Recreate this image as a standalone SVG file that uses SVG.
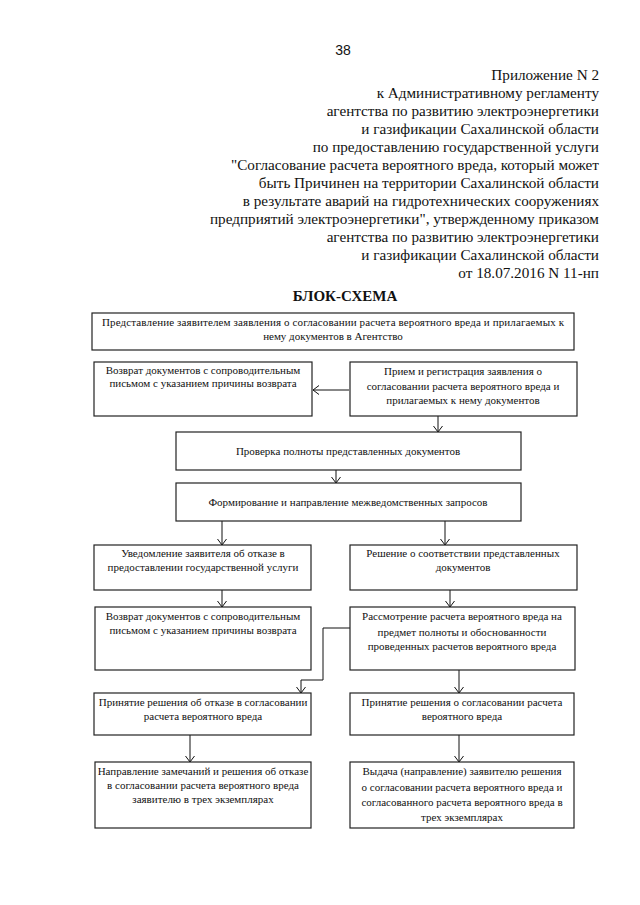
<svg xmlns="http://www.w3.org/2000/svg" width="640" height="905" viewBox="0 0 640 905">
<defs>
<style>
.hdr{font-family:"Liberation Serif","Times New Roman",serif;font-size:15.2px;fill:#111;text-anchor:end}
.t{font-family:"Liberation Serif","Times New Roman",serif;font-size:11px;fill:#111;text-anchor:middle}
.box{fill:#fff;stroke:#222;stroke-width:1.2}
.ln{fill:none;stroke:#111;stroke-width:1}
</style>
<marker id="ah" markerWidth="10" markerHeight="10" refX="6" refY="5" orient="auto" markerUnits="userSpaceOnUse">
<path d="M0,0.5 L6,5 L0,9.5" fill="none" stroke="#111" stroke-width="1"/>
</marker>
</defs>
<rect width="640" height="905" fill="#fff"/>
<text x="343" y="55" font-family="'Liberation Sans',Arial,sans-serif" font-size="14" fill="#111" text-anchor="middle">38</text>
<g id="header">
<text class="hdr" x="599" y="80">Приложение N 2</text>
<text class="hdr" x="599" y="98">к Административному регламенту</text>
<text class="hdr" x="599" y="116">агентства по развитию электроэнергетики</text>
<text class="hdr" x="599" y="134">и газификации Сахалинской области</text>
<text class="hdr" x="599" y="152">по предоставлению государственной услуги</text>
<text class="hdr" x="599" y="170">"Согласование расчета вероятного вреда, который может</text>
<text class="hdr" x="599" y="188">быть Причинен на территории Сахалинской области</text>
<text class="hdr" x="599" y="206">в результате аварий на гидротехнических сооружениях</text>
<text class="hdr" x="599" y="224">предприятий электроэнергетики", утвержденному приказом</text>
<text class="hdr" x="599" y="242">агентства по развитию электроэнергетики</text>
<text class="hdr" x="599" y="260">и газификации Сахалинской области</text>
<text class="hdr" x="599" y="278">от 18.07.2016 N 11-нп</text>
</g>
<text x="345" y="301" font-family="'Liberation Serif','Times New Roman',serif" font-size="15" font-weight="bold" fill="#111" text-anchor="middle">БЛОК-СХЕМА</text>

<g id="connectors">
<line class="ln" x1="349" y1="390" x2="313" y2="390" marker-end="url(#ah)"/>
<line class="ln" x1="438" y1="416" x2="438" y2="432" marker-end="url(#ah)"/>
<line class="ln" x1="336" y1="470" x2="336" y2="483" marker-end="url(#ah)"/>
<line class="ln" x1="222" y1="521" x2="222" y2="545" marker-end="url(#ah)"/>
<line class="ln" x1="445" y1="521" x2="445" y2="545" marker-end="url(#ah)"/>
<line class="ln" x1="222" y1="590" x2="222" y2="607" marker-end="url(#ah)"/>
<line class="ln" x1="450" y1="590" x2="450" y2="607" marker-end="url(#ah)"/>
<polyline class="ln" points="350,628 323,628 323,680 301,680 301,693" marker-end="url(#ah)"/>
<line class="ln" x1="459" y1="670" x2="459" y2="693" marker-end="url(#ah)"/>
<line class="ln" x1="190" y1="735" x2="190" y2="762" marker-end="url(#ah)"/>
<line class="ln" x1="459" y1="735" x2="459" y2="762" marker-end="url(#ah)"/>
</g>

<g id="n1"><rect class="box" x="92" y="313" width="482" height="37"/>
<text class="t" x="333" y="326" textLength="462" lengthAdjust="spacing">Представление заявителем заявления о согласовании расчета  вероятного вреда  и прилагаемых к</text>
<text class="t" x="333" y="340">нему   документов в Агентство</text></g>

<g id="n2"><rect class="box" x="94" y="362" width="218" height="54"/>
<text class="t" x="203" y="374">Возврат документов с сопроводительным</text>
<text class="t" x="203" y="387">письмом с указанием причины возврата</text></g>

<g id="n3"><rect class="box" x="350" y="362" width="227" height="54"/>
<text class="t" x="463" y="375">Прием и регистрация заявления  о</text>
<text class="t" x="463" y="390">согласовании расчета вероятного вреда и</text>
<text class="t" x="463" y="404">прилагаемых к нему документов</text></g>

<g id="n4"><rect class="box" x="176" y="432" width="345" height="38"/>
<text class="t" x="348" y="455">Проверка полноты представленных документов</text></g>

<g id="n5"><rect class="box" x="176" y="483" width="345" height="38"/>
<text class="t" x="348" y="506">Формирование и направление межведомственных запросов</text></g>

<g id="n6"><rect class="box" x="94" y="545" width="217" height="45"/>
<text class="t" x="203" y="557">Уведомление заявителя об отказе в</text>
<text class="t" x="203" y="571">предоставлении государственной услуги</text></g>

<g id="n7"><rect class="box" x="350" y="545" width="227" height="45"/>
<text class="t" x="463" y="557">Решение о соответствии представленных</text>
<text class="t" x="463" y="571">документов</text></g>

<g id="n8"><rect class="box" x="95" y="607" width="216" height="63"/>
<text class="t" x="203" y="620">Возврат документов с сопроводительным</text>
<text class="t" x="203" y="634">письмом с указанием причины возврата</text></g>

<g id="n9"><rect class="box" x="350" y="607" width="225" height="63"/>
<text class="t" x="462" y="620">Рассмотрение расчета  вероятного вреда на</text>
<text class="t" x="462" y="636">предмет  полноты и обоснованности</text>
<text class="t" x="462" y="650">проведенных расчетов  вероятного вреда</text></g>

<g id="n10"><rect class="box" x="94" y="693" width="217" height="42"/>
<text class="t" x="203" y="706">Принятие решения об отказе в согласовании</text>
<text class="t" x="203" y="720">расчета вероятного вреда</text></g>

<g id="n11"><rect class="box" x="350" y="693" width="224" height="42"/>
<text class="t" x="462" y="706">Принятие решения о согласовании расчета</text>
<text class="t" x="462" y="720">вероятного вреда</text></g>

<g id="n12"><rect class="box" x="95" y="762" width="216" height="66"/>
<text class="t" x="203" y="775">Направление замечаний и решения об отказе</text>
<text class="t" x="203" y="789">в согласовании расчета вероятного вреда</text>
<text class="t" x="203" y="803">заявителю в трех экземплярах</text></g>

<g id="n13"><rect class="box" x="350" y="762" width="224" height="66"/>
<text class="t" x="462" y="775">Выдача (направление) заявителю решения</text>
<text class="t" x="462" y="791">о согласовании  расчета вероятного вреда и</text>
<text class="t" x="462" y="806">согласованного расчета вероятного вреда в</text>
<text class="t" x="462" y="821">трех экземплярах</text></g>
</svg>
